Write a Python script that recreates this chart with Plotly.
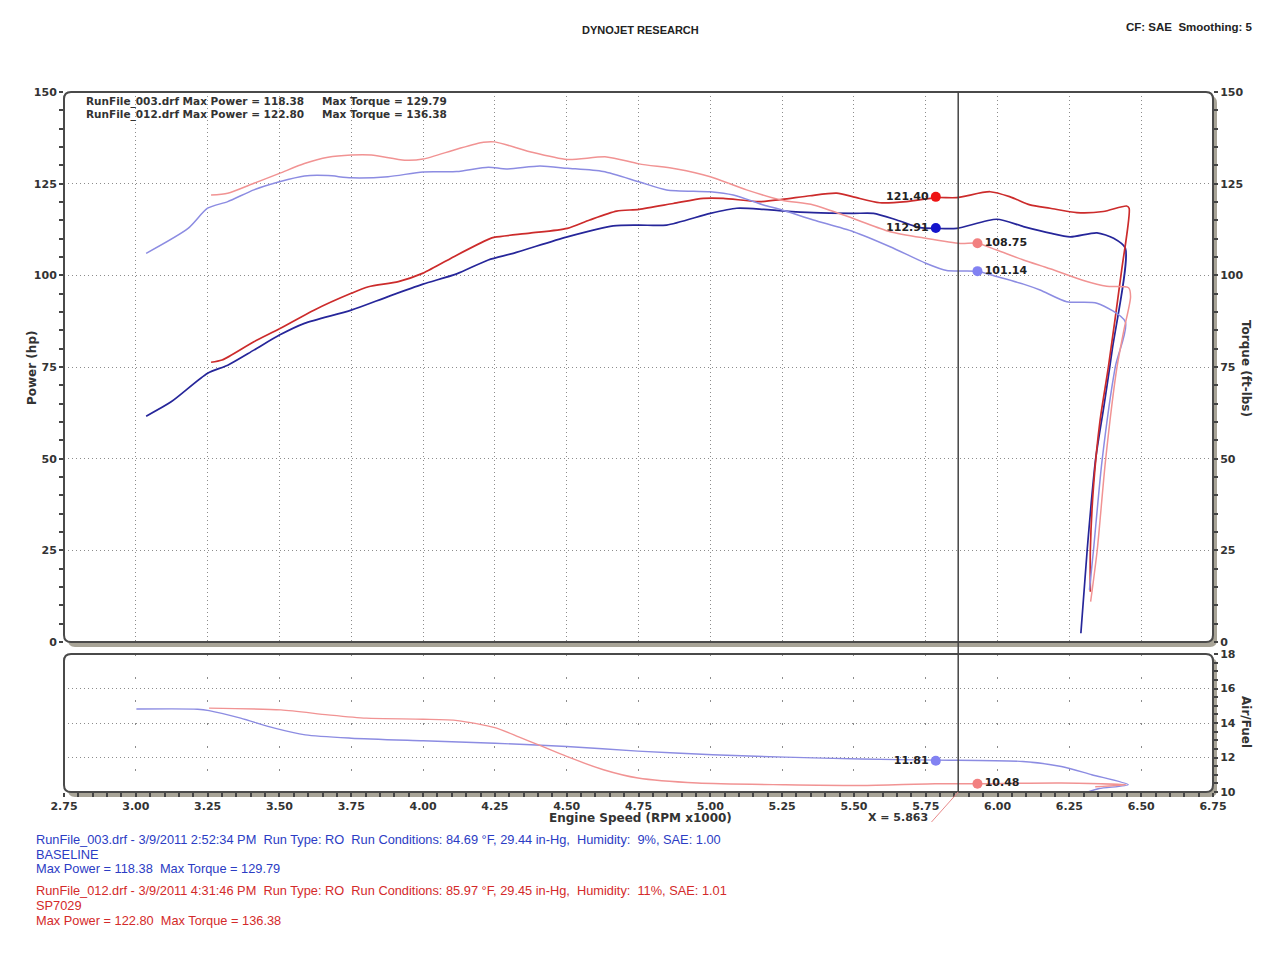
import plotly.graph_objects as go

# ---------------- data ----------------
# Run 003 (BASELINE) power (hp)
rpm_pwr_003 = [3.036, 3.123, 3.25, 3.32, 3.411, 3.5, 3.587, 3.75, 3.878, 4.0, 4.117, 4.227, 4.314,
               4.502, 4.662, 4.752, 4.848, 5.0, 5.092, 5.185, 5.25, 5.359, 5.498, 5.568, 5.649, 5.73,
               5.787, 5.858, 5.997, 6.09, 6.183, 6.253, 6.346, 6.404, 6.445,
               6.399, 6.37, 6.341, 6.312, 6.29]
pwr_003 = [61.6, 65.5, 73.3, 75.5, 79.6, 83.7, 86.9, 90.5, 94.2, 97.6, 100.4, 104.2, 106.0,
           110.5, 113.5, 113.7, 113.7, 116.9, 118.3, 118.0, 117.6, 117.1, 116.9, 116.9, 115.1, 113.0,
           112.8, 112.8, 115.3, 113.3, 111.5, 110.5, 111.6, 110.1, 107.4,
           79.6, 64.2, 49.6, 25.1, 2.4]

# Run 012 (SP7029) power (hp)
rpm_pwr_012 = [3.262, 3.30, 3.411, 3.5, 3.62, 3.75, 3.81, 3.914, 4.0, 4.117, 4.227, 4.25, 4.372,
               4.502, 4.58, 4.674, 4.752, 4.871, 4.976, 5.045, 5.173, 5.25, 5.347, 5.44, 5.498, 5.59,
               5.683, 5.787, 5.858, 5.974, 6.044, 6.113, 6.183, 6.276, 6.368, 6.449, 6.458,
               6.432, 6.386, 6.357, 6.334, 6.323, 6.323]
pwr_012 = [76.3, 76.9, 81.9, 85.4, 90.5, 95.1, 96.9, 98.3, 100.6, 105.5, 109.8, 110.4, 111.5,
           112.8, 115.1, 117.5, 118.0, 119.6, 121.0, 121.0, 120.1, 120.7, 121.7, 122.4, 121.4, 119.8,
           120.1, 121.2, 121.2, 122.8, 121.4, 119.2, 118.3, 117.1, 117.4, 118.9, 118.3,
           101.4, 75.1, 60.5, 42.4, 25.1, 13.7]

# Run 003 torque (ft-lbs)
rpm_trq_003 = [3.036, 3.182, 3.25, 3.32, 3.411, 3.5, 3.587, 3.669, 3.75, 3.878, 4.0, 4.117, 4.227,
               4.29, 4.407, 4.502, 4.627, 4.752, 4.848, 5.0, 5.08, 5.185, 5.25, 5.359, 5.498, 5.626,
               5.75, 5.823, 5.87, 5.93, 6.0, 6.09, 6.148, 6.241, 6.346, 6.445,
               6.41, 6.364, 6.334, 6.32]
trq_003 = [106.0, 112.8, 118.3, 120.1, 123.3, 125.5, 127.1, 127.2, 126.6, 126.9, 128.2, 128.3, 129.5,
           129.0, 129.8, 129.2, 128.3, 125.5, 123.3, 122.8, 121.9, 119.2, 117.8, 115.1, 111.9, 107.8,
           103.3, 101.3, 101.2, 101.1, 99.6, 97.6, 96.0, 92.8, 92.4, 87.3,
           75.1, 49.6, 25.1, 14.2]

# Run 012 torque (ft-lbs)
rpm_trq_012 = [3.262, 3.32, 3.411, 3.5, 3.587, 3.669, 3.75, 3.82, 3.936, 4.0, 4.117, 4.21, 4.25,
               4.372, 4.502, 4.639, 4.752, 4.883, 5.0, 5.126, 5.25, 5.359, 5.498, 5.626, 5.75, 5.87,
               5.93, 5.997, 6.09, 6.183, 6.299, 6.38, 6.456,
               6.463, 6.44, 6.416, 6.376, 6.347, 6.324]
trq_012 = [121.9, 122.4, 125.1, 127.8, 130.5, 132.2, 132.8, 132.8, 131.4, 131.7, 134.4, 136.3, 136.4,
           133.7, 131.6, 132.3, 130.4, 129.0, 126.9, 123.3, 120.5, 119.2, 115.5, 111.9, 110.1, 108.7,
           108.75, 106.9, 104.2, 101.8, 98.6, 97.0, 96.6,
           94.2, 85.1, 75.1, 49.6, 25.1, 11.0]

# Air/Fuel ratio
rpm_afr_003 = [3.002, 3.215, 3.255, 3.365, 3.483, 3.59, 3.75, 4.0, 4.25, 4.5, 4.748, 5.008, 5.261,
               5.524, 5.782, 6.088, 6.222, 6.328, 6.455, 6.354, 6.314]
afr_003 = [14.81, 14.8, 14.72, 14.28, 13.7, 13.31, 13.12, 12.97, 12.83, 12.64, 12.37, 12.16, 12.02,
           11.91, 11.85, 11.77, 11.48, 11.0, 10.42, 10.2, 10.0]
rpm_afr_012 = [3.255, 3.505, 3.669, 3.802, 4.0, 4.12, 4.25, 4.335, 4.402, 4.5, 4.628, 4.748, 4.955,
               5.261, 5.524, 5.782, 5.929, 6.222, 6.448, 6.34]
afr_012 = [14.86, 14.76, 14.47, 14.28, 14.22, 14.14, 13.73, 13.18, 12.73, 12.06, 11.29, 10.81, 10.52,
           10.42, 10.38, 10.48, 10.48, 10.52, 10.42, 10.3]

# cursor readouts
cursor_x = 5.863
cur_pwr_x = 5.785
cur_trq_x = 5.93
cur_pwr_003, cur_pwr_012 = 112.91, 121.40
cur_trq_003, cur_trq_012 = 101.14, 108.75
cur_afr_003, cur_afr_012 = 11.81, 10.48

x_ticks = [2.75 + 0.25 * i for i in range(17)]
x_grid = [3.0 + 0.25 * i for i in range(15)]
y_ticks = [0, 25, 50, 75, 100, 125, 150]
afr_ticks = [10, 12, 14, 16, 18]

# ---------------- colours ----------------
C_PWR_003 = "#26269a"
C_PWR_012 = "#cc2b2b"
C_TRQ_003 = "#8c8ce2"
C_TRQ_012 = "#f19393"
C_TXT_BLUE = "#2b3cc4"
C_TXT_RED = "#d42a2a"

W, H = 1280, 959
ML, MR, MT, MB = 64, 67, 92, 167
PW, PH = W - ML - MR, H - MT - MB


def px(xp):
    return (xp - ML) / PW


def py(yp):
    return (H - MB - yp) / PH


def rrect(x0, y0, x1, y1, r=7):
    rx, ry = r / PW, r / PH
    a, b, c, d = px(x0), py(y1), px(x1), py(y0)  # left, bottom, right, top
    return (f"M {a+rx},{d} L {c-rx},{d} Q {c},{d} {c},{d-ry} L {c},{b+ry} Q {c},{b} {c-rx},{b} "
            f"L {a+rx},{b} Q {a},{b} {a},{b+ry} L {a},{d-ry} Q {a},{d} {a+rx},{d} Z")


fig = go.Figure()

BOLD = "DejaVu Sans"

# main curves
fig.add_trace(go.Scatter(x=rpm_trq_003, y=trq_003, mode="lines", yaxis="y2", xaxis="x",
                         line=dict(color=C_TRQ_003, width=1.5, shape="spline", smoothing=0.7)))
fig.add_trace(go.Scatter(x=rpm_trq_012, y=trq_012, mode="lines", yaxis="y2", xaxis="x",
                         line=dict(color=C_TRQ_012, width=1.5, shape="spline", smoothing=0.7)))
fig.add_trace(go.Scatter(x=rpm_pwr_003, y=pwr_003, mode="lines", yaxis="y", xaxis="x",
                         line=dict(color=C_PWR_003, width=1.7, shape="spline", smoothing=0.7)))
fig.add_trace(go.Scatter(x=rpm_pwr_012, y=pwr_012, mode="lines", yaxis="y", xaxis="x",
                         line=dict(color=C_PWR_012, width=1.7, shape="spline", smoothing=0.7)))

fig.add_trace(go.Scatter(x=rpm_afr_003, y=afr_003, mode="lines", xaxis="x2", yaxis="y3",
                         line=dict(color=C_TRQ_003, width=1.4, shape="spline", smoothing=0.7)))
fig.add_trace(go.Scatter(x=rpm_afr_012, y=afr_012, mode="lines", xaxis="x2", yaxis="y3",
                         line=dict(color=C_TRQ_012, width=1.4, shape="spline", smoothing=0.7)))

# cursor markers
lbl_font = dict(family=BOLD, size=11, color="#222222", weight="bold")
fig.add_trace(go.Scatter(x=[cur_pwr_x, cur_pwr_x], y=[cur_pwr_012, cur_pwr_003], mode="markers+text",
                         xaxis="x", yaxis="y",
                         marker=dict(size=10, color=["#ee1414", "#1414cc"]),
                         text=[f"{cur_pwr_012:.2f}", f"{cur_pwr_003:.2f}"],
                         textposition="middle left", textfont=lbl_font))
fig.add_trace(go.Scatter(x=[cur_trq_x, cur_trq_x], y=[cur_trq_012, cur_trq_003], mode="markers+text",
                         xaxis="x", yaxis="y2",
                         marker=dict(size=10, color=["#f28080", "#8282f2"]),
                         text=[f"{cur_trq_012:.2f}", f"{cur_trq_003:.2f}"],
                         textposition="middle right", textfont=lbl_font))
fig.add_trace(go.Scatter(x=[cur_pwr_x], y=[cur_afr_003], mode="markers+text", xaxis="x2", yaxis="y3",
                         marker=dict(size=10, color="#8282f2"), text=[f"{cur_afr_003:.2f}"],
                         textposition="middle left", textfont=lbl_font))
fig.add_trace(go.Scatter(x=[cur_trq_x], y=[cur_afr_012], mode="markers+text", xaxis="x2", yaxis="y3",
                         marker=dict(size=10, color="#f28080"), text=[f"{cur_afr_012:.2f}"],
                         textposition="middle right", textfont=lbl_font))

# ---------------- frames ----------------
top_box = (64, 92, 1213, 642)
bot_box = (64, 654, 1213, 792)
shapes = []
for (x0, y0, x1, y1) in (top_box, bot_box):
    shapes.append(dict(type="path", xref="paper", yref="paper", layer="below",
                       path=rrect(x0 + 4, y0 + 4, x1 + 4, y1 + 5),
                       fillcolor="#a8a497", line=dict(width=0)))
    shapes.append(dict(type="path", xref="paper", yref="paper", layer="below",
                       path=rrect(x0, y0, x1, y1), fillcolor="white", line=dict(width=0)))
    shapes.append(dict(type="path", xref="paper", yref="paper", layer="above",
                       path=rrect(x0, y0, x1, y1), line=dict(color="#4a4a4a", width=2)))
# cursor line
shapes.append(dict(type="line", xref="x", yref="paper", x0=cursor_x, x1=cursor_x, y0=0, y1=1,
                   line=dict(color="#444444", width=1.5), layer="above"))
# leader line to the cursor label
shapes.append(dict(type="line", xref="x", yref="paper", x0=cursor_x, x1=5.77, y0=0, y1=py(822),
                   line=dict(color="#e88a8a", width=1), layer="above"))

tickfont = dict(family=BOLD, size=11, color="#333333", weight="bold")
grid_dot = "1px,3px"

fig.update_layout(
    width=W, height=H,
    margin=dict(l=ML, r=MR, t=MT, b=MB),
    paper_bgcolor="white", plot_bgcolor="white",
    showlegend=False,
    shapes=shapes,
    xaxis=dict(domain=[0, 1], range=[2.75, 6.75], anchor="y", tickvals=x_grid, showticklabels=False,
               showgrid=True, gridcolor="#8c8c8c", gridwidth=1, griddash=grid_dot, ticks="",
               zeroline=False, showline=False),
    yaxis=dict(domain=[py(642), 1], range=[0, 150], anchor="x", tickvals=y_ticks, ticks="outside",
               ticklen=4, tickcolor="#444", tickwidth=1.5, tickfont=tickfont,
               minor=dict(dtick=5, ticks="outside", ticklen=4, tickcolor="#444", tickwidth=1.5, showgrid=False),
               showgrid=True, gridcolor="#8c8c8c", gridwidth=1, griddash=grid_dot,
               zeroline=False, showline=False),
    yaxis2=dict(overlaying="y", side="right", range=[0, 150], anchor="x", tickvals=y_ticks,
                ticks="outside", ticklen=4, tickcolor="#444", tickwidth=1.5, tickfont=tickfont,
                minor=dict(dtick=5, ticks="outside", ticklen=4, tickcolor="#444", tickwidth=1.5),
                showgrid=False, zeroline=False, showline=False),
    xaxis2=dict(domain=[0, 1], range=[2.75, 6.75], anchor="y3", matches="x", tickvals=x_ticks,
                ticktext=[f"{v:.2f}" for v in x_ticks], ticks="outside", ticklen=4, tickcolor="#444",
                tickwidth=1.5, tickfont=tickfont,
                minor=dict(dtick=0.05, tick0=2.75, ticks="outside", ticklen=4, tickcolor="#444",
                           tickwidth=1.5, showgrid=False),
                showgrid=True, gridcolor="#8c8c8c", gridwidth=1, griddash="1.5px,21.5px",
                zeroline=False, showline=False),
    yaxis3=dict(domain=[0, py(654)], range=[10, 18], anchor="x2", side="right", tickvals=afr_ticks,
                ticks="outside", ticklen=4, tickcolor="#444", tickwidth=1.5, tickfont=tickfont,
                minor=dict(dtick=0.5, ticks="outside", ticklen=4, tickcolor="#444", tickwidth=1.5,
                           showgrid=False),
                showgrid=True, gridcolor="#8c8c8c", gridwidth=1, griddash=grid_dot,
                zeroline=False, showline=False),
)

NB = "\u00a0"
ann = []


def A(text, xp, yp, xanchor="left", size=10.5, color="#333333", family=BOLD, bold=True, angle=0):
    ann.append(dict(text=f"<b>{text}</b>" if bold else text, x=px(xp), y=py(yp), xref="paper",
                    yref="paper", xanchor=xanchor, yanchor="middle", showarrow=False, textangle=angle,
                    font=dict(family=family, size=size, color=color)))


A("DYNOJET RESEARCH", 640, 30, "center", 11, "#222222", "Liberation Sans Narrow, Liberation Sans")
A(f"CF: SAE{NB}{NB}Smoothing: 5", 1254, 27, "right", 11.5, "#222222", "Liberation Sans Narrow, Liberation Sans")
A("RunFile_003.drf Max Power = 118.38", 84, 101, size=10.5)
A("Max Torque = 129.79", 320, 101, size=10.5)
A("RunFile_012.drf Max Power = 122.80", 84, 114, size=10.5)
A("Max Torque = 136.38", 320, 114, size=10.5)
A("Power (hp)", 32, 368, "center", 12, angle=-90)
A("Torque (ft-lbs)", 1246, 368, "center", 12, angle=90)
A("Air/Fuel", 1246, 722, "center", 12, angle=90)
A("Engine Speed (RPM x1000)", 640, 818, "center", 12)
A("X = 5.863", 898, 817, "center", 11)

bl = [f"RunFile_003.drf - 3/9/2011 2:52:34 PM{NB}{NB}Run Type: RO{NB}{NB}Run Conditions: 84.69 °F, 29.44 in-Hg,{NB}{NB}Humidity:{NB}{NB}9%, SAE: 1.00",
      "BASELINE", f"Max Power = 118.38{NB}{NB}Max Torque = 129.79"]
rl = [f"RunFile_012.drf - 3/9/2011 4:31:46 PM{NB}{NB}Run Type: RO{NB}{NB}Run Conditions: 85.97 °F, 29.45 in-Hg,{NB}{NB}Humidity:{NB}{NB}11%, SAE: 1.01",
      "SP7029", f"Max Power = 122.80{NB}{NB}Max Torque = 136.38"]
for t, yy in zip(bl, [839, 854, 868]):
    A(t, 34, yy, size=12.8, color=C_TXT_BLUE, family="Liberation Sans", bold=False)
for t, yy in zip(rl, [890, 905, 920]):
    A(t, 34, yy, size=12.8, color=C_TXT_RED, family="Liberation Sans", bold=False)

fig.update_layout(annotations=ann)
fig.write_html("out.html")
